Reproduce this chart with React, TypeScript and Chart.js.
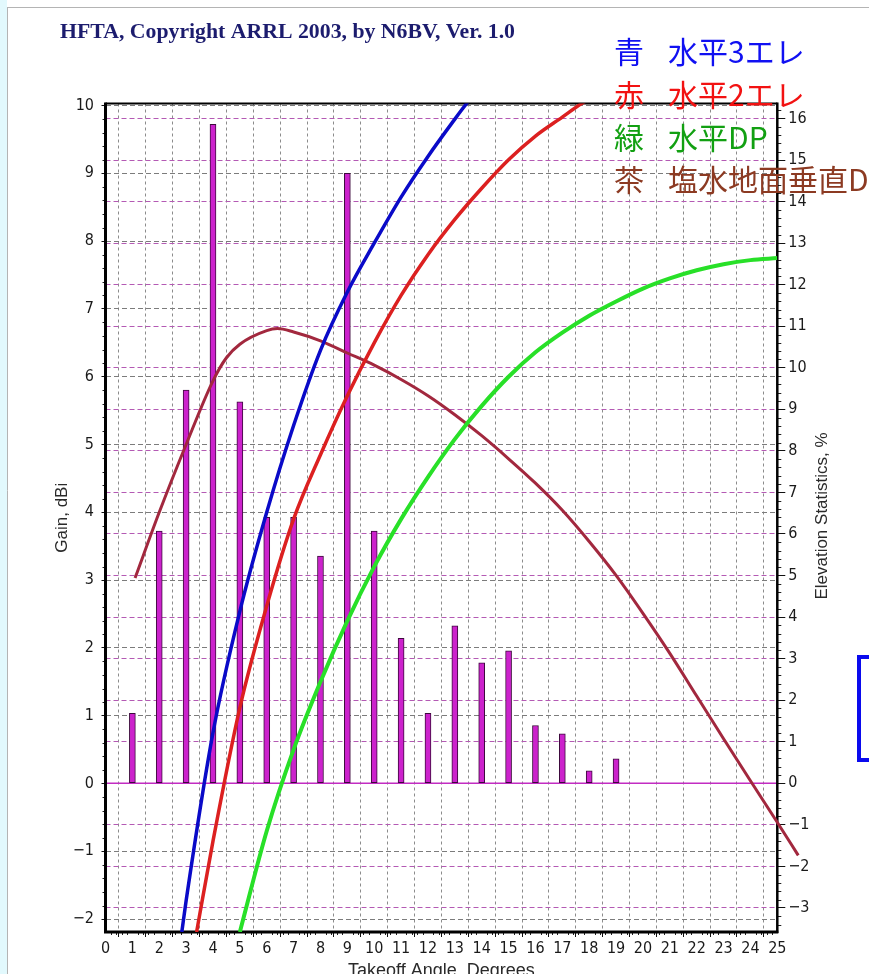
import React, { useEffect, useRef } from 'react';
import { Chart, registerables } from 'chart.js';

Chart.register(...registerables);

const W = 869;
const H = 974;

// ---------- text ----------
const titleText = 'HFTA, Copyright ARRL 2003, by N6BV, Ver. 1.0';
const legendMarks = ['青', '赤', '緑', '茶'];
const legendLabels = ['水平3エレ', '水平2エレ', '水平DP', '塩水地面垂直DP'];
const legendColors = ['#1010f2', '#f21212', '#12a012', '#8c3a22'];
const xTitle = 'Takeoff Angle, Degrees';
const yTitle = 'Gain, dBi';
const y2Title = 'Elevation Statistics, %';

// ---------- ticks ----------
const angleTicks = [0, 1, 2, 3, 4, 5, 6, 7, 8, 9, 10, 11, 12, 13, 14, 15, 16, 17, 18, 19, 20, 21, 22, 23, 24, 25];
const gainTicks = [-2, -1, 0, 1, 2, 3, 4, 5, 6, 7, 8, 9, 10];
const pctTicks = [-3, -2, -1, 0, 1, 2, 3, 4, 5, 6, 7, 8, 9, 10, 11, 12, 13, 14, 15, 16];

// ---------- elevation statistics (bars, %) ----------
const barAngles = [1, 2, 3, 4, 5, 6, 7, 8, 9, 10, 11, 12, 13, 14, 15, 16, 17, 18, 19];
const barPct = [1.68, 6.07, 9.46, 15.86, 9.18, 6.4, 6.4, 5.47, 14.68, 6.07, 3.49, 1.68, 3.79, 2.9, 3.19, 1.39, 1.19, 0.3, 0.59];

// ---------- gain curves (dBi) ----------
const blueAngles = [2.84, 3, 4, 5, 6, 7, 8, 9, 10, 11, 12, 13, 13.44, 14];
const blueGain = [-2.19, -1.73, 0.75, 2.54, 4.0, 5.28, 6.39, 7.25, 7.97, 8.65, 9.25, 9.8, 10.03, 10.3];

const redAngles = [3.39, 4, 5, 6, 7, 8, 9, 10, 11, 12, 13, 14, 15, 16, 17, 17.72, 18.5];
const redGain = [-2.19, -0.85, 1.12, 2.62, 3.9, 4.85, 5.72, 6.5, 7.2, 7.8, 8.32, 8.78, 9.2, 9.55, 9.83, 10.03, 10.2];

const greenAngles = [5.0, 6, 7, 8, 9, 10, 11, 12, 13, 14, 15, 16, 17, 18, 19, 20, 21, 22, 23, 24, 25];
const greenGain = [-2.19, -0.7, 0.5, 1.5, 2.4, 3.2, 3.9, 4.52, 5.08, 5.57, 6.0, 6.36, 6.65, 6.9, 7.11, 7.3, 7.45, 7.57, 7.66, 7.72, 7.75];

const brownAngles = [1.1, 2, 3, 4, 4.5, 5, 6, 6.4, 7, 8, 9, 10, 11, 12, 13, 14, 15, 16, 17, 18, 19, 20, 21, 22, 23, 24, 24.98, 25.78];
const brownGain = [3.03, 4.0, 5.0, 5.94, 6.28, 6.48, 6.68, 6.71, 6.66, 6.53, 6.35, 6.17, 5.96, 5.72, 5.44, 5.13, 4.79, 4.43, 4.03, 3.57, 3.07, 2.51, 1.92, 1.29, 0.66, 0.04, -0.56, -1.06];

const NARROW = "'Liberation Sans Narrow', 'Arial Narrow', 'DejaVu Sans Condensed', sans-serif";
const SANS = "'Liberation Sans', Arial, sans-serif";

const fmt = (v: number | string) => {
  const n = Number(v);
  return n < 0 ? '\u2212' + Math.abs(n) : String(n);
};

const pts = (xs: number[], ys: number[]) => xs.map((x, i) => ({ x, y: ys[i] }));

const deco = {
  id: 'deco',
  beforeDraw(chart: any) {
    const { ctx } = chart;
    ctx.save();
    ctx.fillStyle = '#ffffff';
    ctx.fillRect(0, 0, W, H);
    ctx.fillStyle = '#e2f9fd';
    ctx.fillRect(0, 0, 7, H);
    ctx.strokeStyle = '#b4b4b4';
    ctx.lineWidth = 1;
    ctx.beginPath();
    ctx.moveTo(7.5, 7);
    ctx.lineTo(7.5, H);
    ctx.moveTo(7, 7.5);
    ctx.lineTo(W, 7.5);
    ctx.stroke();
    ctx.restore();
  },
  beforeDatasetsDraw(chart: any) {
    const { ctx, chartArea: a, scales } = chart;
    const x = scales.x, y = scales.y, y2 = scales.y2;
    ctx.save();
    // zero line of the statistics axis
    const z = y2.getPixelForValue(0);
    ctx.strokeStyle = '#c22cc2';
    ctx.lineWidth = 1.5;
    ctx.beginPath();
    ctx.moveTo(a.left, z);
    ctx.lineTo(a.right, z);
    ctx.stroke();
    // minor ticks
    ctx.strokeStyle = '#222';
    ctx.lineWidth = 1;
    ctx.beginPath();
    for (let k = -11; k <= 50; k++) {
      if (k % 5 === 0) continue;
      const py = Math.round(y.getPixelForValue(k / 5)) + 0.5;
      if (py < a.top || py > a.bottom) continue;
      ctx.moveTo(a.left - 3, py);
      ctx.lineTo(a.left, py);
    }
    for (let k = -17; k <= 81; k++) {
      if (k % 5 === 0) continue;
      const py = Math.round(y2.getPixelForValue(k / 5)) + 0.5;
      if (py < a.top || py > a.bottom) continue;
      ctx.moveTo(a.right, py);
      ctx.lineTo(a.right + 4, py);
    }
    for (let k = 0; k <= 125; k++) {
      if (k % 5 === 0) continue;
      const px = Math.round(x.getPixelForValue(k / 5)) + 0.5;
      ctx.moveTo(px, a.bottom);
      ctx.lineTo(px, a.bottom + 3);
    }
    ctx.stroke();
    // frame
    ctx.strokeStyle = '#000';
    ctx.lineWidth = 2;
    ctx.beginPath();
    ctx.moveTo(a.left, a.top);
    ctx.lineTo(a.right, a.top);
    ctx.stroke();
    ctx.lineWidth = 2.5;
    ctx.beginPath();
    ctx.moveTo(a.right, a.top - 1);
    ctx.lineTo(a.right, a.bottom + 1);
    ctx.stroke();
    ctx.lineWidth = 3;
    ctx.beginPath();
    ctx.moveTo(a.left, a.top - 1);
    ctx.lineTo(a.left, a.bottom + 1.5);
    ctx.moveTo(a.left - 1.5, a.bottom);
    ctx.lineTo(a.right + 1, a.bottom);
    ctx.stroke();
    ctx.restore();
  },
  afterDraw(chart: any) {
    const { ctx } = chart;
    ctx.save();
    // header
    ctx.font = "bold 20px 'Liberation Serif', 'Times New Roman', serif";
    ctx.fillStyle = '#1c1c6e';
    ctx.textBaseline = 'middle';
    ctx.textAlign = 'left';
    const tw = ctx.measureText(titleText).width;
    ctx.save();
    ctx.translate(60, 33);
    ctx.scale(455 / tw, 1);
    ctx.fillText(titleText, 0, 0);
    ctx.restore();
    // legend notes
    const ys = [52, 95, 137.5, 180];
    ctx.font = "30px 'Noto Sans CJK JP', sans-serif";
    for (let i = 0; i < legendMarks.length; i++) {
      ctx.fillStyle = legendColors[i];
      ctx.fillText(legendMarks[i], 614, ys[i]);
      ctx.fillText(legendLabels[i], 668, ys[i]);
    }
    // right axis title
    ctx.save();
    ctx.translate(822, 516);
    ctx.rotate(-Math.PI / 2);
    ctx.textAlign = 'center';
    ctx.font = '17px ' + SANS;
    ctx.fillStyle = '#2a2a2a';
    ctx.fillText(y2Title, 0, 0);
    ctx.restore();
    // partial box at the right edge
    ctx.strokeStyle = '#0a0aee';
    ctx.lineWidth = 4;
    ctx.strokeRect(859, 657, 30, 103);
    ctx.restore();
  },
};

export default function App() {
  const ref = useRef<HTMLCanvasElement | null>(null);

  useEffect(() => {
    if (!ref.current) return;
    const tickFont = { family: NARROW, size: 16 };
    const chart = new Chart(ref.current, {
      type: 'line',
      data: {
        datasets: [
          {
            type: 'bar',
            label: 'Elevation Statistics',
            data: pts(barAngles, barPct),
            yAxisID: 'y2',
            xAxisID: 'x',
            backgroundColor: '#cc22cc',
            borderColor: '#3c0a3c',
            borderWidth: 1,
            borderSkipped: false,
            barThickness: 6,
            order: 10,
          } as any,
          {
            label: '水平3エレ',
            data: pts(blueAngles, blueGain),
            yAxisID: 'y',
            borderColor: '#0a0ac8',
            borderWidth: 3.5,
            pointRadius: 0,
            cubicInterpolationMode: 'monotone',
            order: 1,
          },
          {
            label: '水平2エレ',
            data: pts(redAngles, redGain),
            yAxisID: 'y',
            borderColor: '#dc2020',
            borderWidth: 3.5,
            pointRadius: 0,
            cubicInterpolationMode: 'monotone',
            order: 2,
          },
          {
            label: '水平DP',
            data: pts(greenAngles, greenGain),
            yAxisID: 'y',
            borderColor: '#28e028',
            borderWidth: 4,
            pointRadius: 0,
            cubicInterpolationMode: 'monotone',
            order: 3,
          },
          {
            label: '塩水地面垂直DP',
            data: pts(brownAngles, brownGain),
            yAxisID: 'y',
            borderColor: '#a2283e',
            borderWidth: 3,
            pointRadius: 0,
            cubicInterpolationMode: 'monotone',
            clip: false,
            order: 4,
          } as any,
        ],
      },
      options: {
        responsive: false,
        animation: false,
        devicePixelRatio: 1,
        layout: { padding: { left: 0, right: 0, top: 103.5, bottom: 0 } },
        plugins: { legend: { display: false }, tooltip: { enabled: false } },
        scales: {
          x: {
            type: 'linear',
            position: 'bottom',
            min: 0,
            max: 25,
            offset: false,
            afterBuildTicks: (s: any) => {
              s.ticks = angleTicks.map((v) => ({ value: v }));
            },
            afterFit: (s: any) => {
              s.height = 42;
            },
            grid: { color: '#8c8c8c', lineWidth: 1, tickColor: '#111', tickLength: 5, tickWidth: 1 },
            border: { display: false, dash: [3, 3] },
            ticks: { font: tickFont, color: '#1a1a1a', padding: 2, maxRotation: 0, autoSkip: false, callback: fmt },
            title: {
              display: true,
              text: xTitle,
              color: '#2a2a2a',
              font: { family: SANS, size: 18, lineHeight: 0.33 },
              padding: 0,
            },
          },
          y: {
            type: 'linear',
            position: 'left',
            min: -2.19,
            max: 10.03,
            afterBuildTicks: (s: any) => {
              s.ticks = gainTicks.map((v) => ({ value: v }));
            },
            afterFit: (s: any) => {
              s.width = 105.5;
            },
            grid: { color: '#7c7c7c', lineWidth: 1, tickColor: '#111', tickLength: 4, tickWidth: 1 },
            border: { display: false, dash: [5, 3] },
            ticks: { font: tickFont, color: '#1a1a1a', padding: 7.5, autoSkip: false, callback: fmt },
            title: {
              display: true,
              text: yTitle,
              color: '#2a2a2a',
              font: { family: SANS, size: 17 },
              padding: { top: 52, bottom: 0 },
            },
          },
          y2: {
            type: 'linear',
            position: 'right',
            min: -3.58,
            max: 16.36,
            afterBuildTicks: (s: any) => {
              s.ticks = pctTicks.map((v) => ({ value: v }));
            },
            afterFit: (s: any) => {
              s.width = 91.7;
            },
            grid: { color: '#b45ab4', lineWidth: 1, tickColor: '#111', tickLength: 8, tickWidth: 1 },
            border: { display: false, dash: [5, 3] },
            ticks: { font: tickFont, color: '#1a1a1a', padding: 3, autoSkip: false, callback: fmt },
          },
        },
      } as any,
      plugins: [deco],
    });
    return () => chart.destroy();
  }, []);

  return (
    <div style={{ position: 'absolute', left: 0, top: 0, width: W, height: H, overflow: 'hidden', background: '#fff' }}>
      <canvas ref={ref} width={W} height={H} style={{ display: 'block' }} />
    </div>
  );
}
